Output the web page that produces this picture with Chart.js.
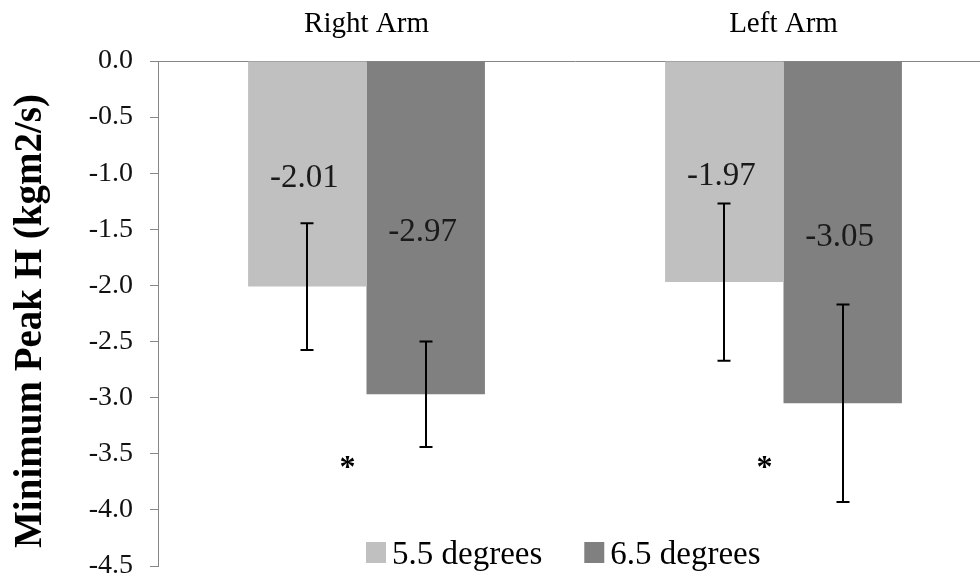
<!DOCTYPE html>
<html>
<head>
<meta charset="utf-8">
<script src="https://cdn.jsdelivr.net/npm/chart.js@4.4.1/dist/chart.umd.min.js"></script>
<style>
  html, body { margin: 0; padding: 0; background: #fff; overflow: hidden; width: 980px; height: 581px; }
  canvas { display: block; }
</style>
</head>
<body>
<canvas id="c" width="992" height="581"></canvas>
<script>
// ---- Data ----
const categories = ["Right Arm", "Left Arm"];
const seriesNames = ["5.5 degrees", "6.5 degrees"];
const values55 = [-2.01, -1.97];
const values65 = [-2.97, -3.05];
const errors55 = [0.565, 0.70];
const errors65 = [0.47, 0.88];
const labels55 = ["-2.01", "-1.97"];
const labels65 = ["-2.97", "-3.05"];
const asteriskValues = [-3.57, -3.57];
const yTicks = [0.0, -0.5, -1.0, -1.5, -2.0, -2.5, -3.0, -3.5, -4.0, -4.5];
const yTitle = "Minimum Peak H (kgm2/s)";

const FONT = '"Liberation Serif", "Times New Roman", serif';
const COLORS = ["#C0C0C0", "#808080"];
const AXIS = "#868686";

const errs = [errors55, errors65];
const valLabels = [labels55, labels65];

const annotations = {
  id: "annotations",
  afterDatasetsDraw(chart) {
    const ctx = chart.ctx;
    const y = chart.scales.y;
    const x = chart.scales.x;
    ctx.save();
    // error bars
    ctx.strokeStyle = "#000";
    ctx.lineWidth = 2;
    chart.data.datasets.forEach((ds, i) => {
      const meta = chart.getDatasetMeta(i);
      meta.data.forEach((el, j) => {
        const v = ds.data[j], e = errs[i][j];
        const cx = Math.round(el.x);
        const yt = y.getPixelForValue(v + e);
        const yb = y.getPixelForValue(v - e);
        ctx.beginPath();
        ctx.moveTo(cx, yt); ctx.lineTo(cx, yb);
        ctx.moveTo(cx - 6.5, yt); ctx.lineTo(cx + 6.5, yt);
        ctx.moveTo(cx - 6.5, yb); ctx.lineTo(cx + 6.5, yb);
        ctx.stroke();
      });
    });
    // value labels at bar centre
    ctx.font = "33px " + FONT;
    ctx.fillStyle = "#1a1a1a";
    ctx.textAlign = "center";
    ctx.textBaseline = "middle";
    chart.data.datasets.forEach((ds, i) => {
      const meta = chart.getDatasetMeta(i);
      meta.data.forEach((el, j) => {
        ctx.fillText(valLabels[i][j], el.x - 3, y.getPixelForValue(ds.data[j] / 2) + 5);
      });
    });
    // significance asterisks
    ctx.font = "bold 32px " + FONT;
    ctx.fillStyle = "#000";
    ctx.textBaseline = "alphabetic";
    asteriskValues.forEach((v, j) => {
      ctx.fillText("*", x.getPixelForValue(j) - 19, y.getPixelForValue(v) + 15);
    });
    // legend (inside plot area, bottom)
    ctx.font = "33px " + FONT;
    ctx.textAlign = "left";
    let lx = 366;
    seriesNames.forEach((name, i) => {
      ctx.fillStyle = COLORS[i];
      ctx.fillRect(lx, 542, 20, 21);
      ctx.fillStyle = "#000";
      ctx.fillText(name, lx + 26, 564);
      lx += 26 + ctx.measureText(name).width + 42;
    });
    // y axis title
    ctx.font = "bold 39px " + FONT;
    ctx.textAlign = "center";
    ctx.textBaseline = "middle";
    ctx.translate(31, 321);
    ctx.rotate(-Math.PI / 2);
    ctx.fillText(yTitle, 0, 0);
    ctx.restore();
  }
};

new Chart(document.getElementById("c"), {
  type: "bar",
  data: {
    labels: categories,
    datasets: [
      { label: seriesNames[0], data: values55, backgroundColor: COLORS[0], borderWidth: 0 },
      { label: seriesNames[1], data: values65, backgroundColor: COLORS[1], borderWidth: 0 }
    ]
  },
  options: {
    responsive: false,
    animation: false,
    devicePixelRatio: 1,
    layout: { padding: { left: 0, top: 0, right: 0, bottom: 15 } },
    datasets: { bar: { barPercentage: 1.0, categoryPercentage: 0.568 } },
    plugins: { legend: { display: false }, tooltip: { enabled: false }, title: { display: false } },
    scales: {
      x: {
        position: "top",
        z: 1,
        grid: { display: false },
        border: { display: true, color: AXIS, width: 1 },
        ticks: { color: "#000", font: { family: FONT, size: 29, lineHeight: 1.2 }, padding: 11, maxRotation: 0 },
        afterFit(s) { s.height = 61; s.paddingLeft = 0; s.paddingRight = 0; }
      },
      y: {
        min: -4.5,
        max: 0,
        grid: { display: true, drawOnChartArea: false, drawTicks: true, tickLength: 8, tickColor: AXIS, color: AXIS },
        border: { display: true, color: AXIS, width: 1 },
        afterBuildTicks(s) { s.ticks = yTicks.slice().sort((a, b) => a - b).map(v => ({ value: v })); },
        ticks: { color: "#111", font: { family: FONT, size: 28 }, padding: 17, callback: v => Number(v).toFixed(1) },
        afterFit(s) { s.width = 158; s.paddingTop = 0; s.paddingBottom = 0; }
      }
    }
  },
  plugins: [annotations]
});
</script>
</body>
</html>
